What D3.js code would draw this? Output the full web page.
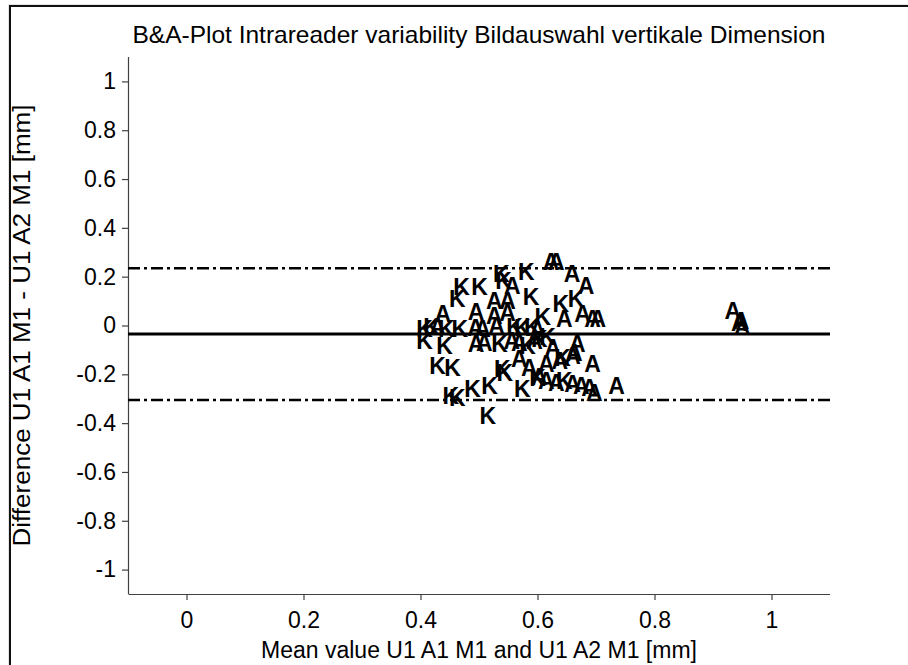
<!DOCTYPE html>
<html>
<head>
<meta charset="utf-8">
<script src="https://cdn.jsdelivr.net/npm/d3@7"></script>
<style>
  body { margin: 0; background: #fff; }
  svg text { font-family: "Liberation Sans", Arial, sans-serif; fill: #000; }
  .axis path, .axis line { stroke: #404040; stroke-width: 1.2px; }
</style>
</head>
<body>
<div id="ba-plot"><svg></svg></div>
<script>
// readers: K and A, [mean value, difference]
const pointsK = [
  [0.538, 0.214], [0.542, 0.185], [0.581, 0.219], [0.470, 0.157], [0.501, 0.157],
  [0.463, 0.111], [0.589, 0.116], [0.640, 0.089], [0.666, 0.111], [0.609, 0.034],
  [0.407, -0.012], [0.419, -0.004], [0.444, -0.012], [0.467, -0.012], [0.561, -0.004],
  [0.574, -0.008], [0.591, -0.004], [0.407, -0.062], [0.441, -0.082], [0.535, -0.074],
  [0.429, -0.164], [0.455, -0.172], [0.540, -0.177], [0.452, -0.287], [0.463, -0.296],
  [0.489, -0.259], [0.518, -0.246], [0.544, -0.193], [0.574, -0.259], [0.600, -0.214],
  [0.515, -0.370], [0.643, -0.131], [0.646, -0.226], [0.603, -0.053], [0.583, -0.082],
  [0.617, -0.045]
];
const pointsA = [
  [0.557, 0.164], [0.623, 0.260], [0.632, 0.260], [0.659, 0.214], [0.683, 0.164],
  [0.526, 0.103], [0.549, 0.103], [0.438, 0.049], [0.495, 0.055], [0.526, 0.041],
  [0.549, 0.053], [0.646, 0.029], [0.677, 0.049], [0.694, 0.029], [0.703, 0.029],
  [0.429, -0.004], [0.494, -0.008], [0.506, -0.012], [0.530, 0.000], [0.600, -0.016],
  [0.495, -0.074], [0.509, -0.070], [0.556, -0.062], [0.569, -0.070], [0.595, -0.062],
  [0.626, -0.090], [0.663, -0.111], [0.668, -0.074], [0.660, -0.123], [0.694, -0.156],
  [0.569, -0.136], [0.586, -0.172], [0.615, -0.156], [0.638, -0.144], [0.603, -0.209],
  [0.615, -0.226], [0.632, -0.234], [0.660, -0.238], [0.675, -0.246], [0.689, -0.255],
  [0.697, -0.275], [0.735, -0.246], [0.934, 0.062], [0.948, 0.021], [0.950, -0.007],
  [0.945, 0.012]
];

// mean difference and limits of agreement
const meanDiff = -0.035;
const limits = [0.235, -0.305];

const xTicks = [0, 0.2, 0.4, 0.6, 0.8, 1];
const yTicks = [-1, -0.8, -0.6, -0.4, -0.2, 0, 0.2, 0.4, 0.6, 0.8, 1];

const titleText = "B&A-Plot Intrareader variability Bildauswahl vertikale Dimension";
const xLabelText = "Mean value U1 A1 M1 and U1 A2 M1 [mm]";
const yLabelText = "Difference U1 A1 M1 - U1 A2 M1 [mm]";

// Set the dimensions of the canvas / graph
const width = 908;
const height = 665;
const margin = { top: 57, right: 78, bottom: 71, left: 128 };
const innerWidth = width - margin.left - margin.right;
const innerHeight = height - margin.top - margin.bottom;

const xScale = d3.scaleLinear().domain([-0.1, 1.1]).range([0, innerWidth]);
const yScale = d3.scaleLinear().domain([-1.1, 1.1]).range([innerHeight, 0]);

// plain hyphen minus like the original
const tickFmt = (d) => d3.format("~g")(d).replace("\u2212", "-");

const svg = d3.select("#ba-plot > svg").attr("width", width).attr("height", height);

// figure frame (cut off at right / bottom)
svg.append("rect")
  .attr("x", 9).attr("y", 5)
  .attr("width", width + 10).attr("height", height + 10)
  .attr("fill", "none").attr("stroke", "#ccc").attr("stroke-width", 1);
svg.append("rect")
  .attr("x", 10).attr("y", 6)
  .attr("width", width + 10).attr("height", height + 10)
  .attr("fill", "none").attr("stroke", "#111").attr("stroke-width", 2);

const g = svg.append("g").attr("transform", `translate(${margin.left},${margin.top})`);

drawAxis(g);
drawLines(g);
drawPoints(g, pointsK, "K");
drawPoints(g, pointsA, "A");

function drawAxis(dest) {
  // X axis
  const xAxis = dest.append("g")
    .attr("class", "axis")
    .attr("transform", `translate(0,${innerHeight})`)
    .call(d3.axisBottom(xScale).tickValues(xTicks).tickSize(6).tickPadding(12)
      .tickFormat(tickFmt));
  xAxis.select(".domain").attr("d", `M0.5,0.5H${innerWidth}`);
  xAxis.selectAll("text").attr("font-size", "23px");

  // Y axis
  const yAxis = dest.append("g")
    .attr("class", "axis")
    .call(d3.axisLeft(yScale).tickValues(yTicks).tickSize(6).tickPadding(6)
      .tickFormat(tickFmt));
  yAxis.select(".domain").attr("d", `M0.5,0V${innerHeight}`);
  yAxis.selectAll("text").attr("font-size", "23px");
  d3.selectAll(".axis text").attr("fill", "#000");

  // Title
  svg.append("text")
    .attr("x", margin.left + innerWidth / 2)
    .attr("y", 43)
    .attr("text-anchor", "middle")
    .attr("font-size", "24px")
    .attr("textLength", 693)
    .attr("lengthAdjust", "spacingAndGlyphs")
    .text(titleText);

  // X Label
  svg.append("text")
    .attr("x", margin.left + innerWidth / 2)
    .attr("y", 658)
    .attr("text-anchor", "middle")
    .attr("font-size", "23px")
    .text(xLabelText);

  // Y Label
  svg.append("text")
    .attr("transform", `translate(30,${margin.top + innerHeight / 2}) rotate(-90)`)
    .attr("text-anchor", "middle")
    .attr("font-size", "23px")
    .attr("textLength", 442)
    .attr("lengthAdjust", "spacingAndGlyphs")
    .text(yLabelText);
}

function drawLines(dest) {
  dest.append("line")
    .attr("x1", 0).attr("x2", innerWidth)
    .attr("y1", yScale(meanDiff)).attr("y2", yScale(meanDiff))
    .attr("stroke", "#000").attr("stroke-width", 3);

  dest.selectAll(".loa")
    .data(limits)
    .enter()
    .append("line")
    .attr("class", "loa")
    .attr("x1", 0).attr("x2", innerWidth)
    .attr("y1", (d) => yScale(d)).attr("y2", (d) => yScale(d))
    .attr("stroke", "#000").attr("stroke-width", 2.5)
    .attr("stroke-dasharray", "12,4,3,4");
}

function drawPoints(dest, data, letter) {
  dest.append("g")
    .selectAll("text")
    .data(data)
    .enter()
    .append("text")
    .attr("x", (d) => xScale(d[0]))
    .attr("y", (d) => yScale(d[1]))
    .attr("text-anchor", "middle")
    .attr("dy", "0.36em")
    .attr("font-size", "23px")
    .attr("font-weight", "bold")
    .text(letter);
}
</script>
</body>
</html>
